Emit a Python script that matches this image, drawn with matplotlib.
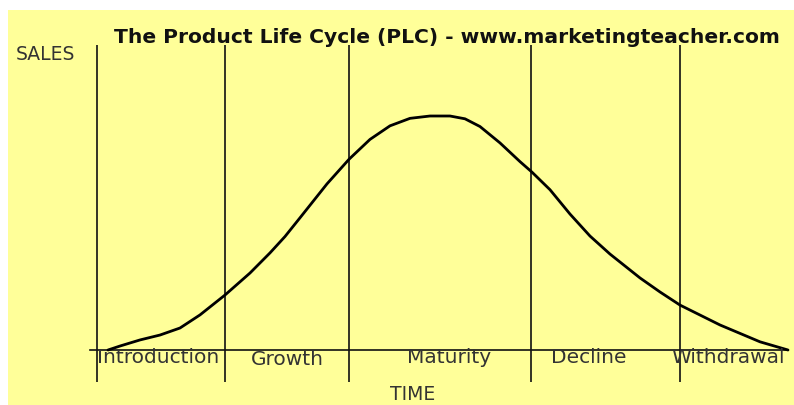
import matplotlib.pyplot as plt

# time (periods) and sales (index, peak = 100)
time = [1.1, 2.3, 4.3, 6.3, 8.3, 10.3, 12.8, 15.3, 17.3, 18.8, 20.3, 23.0,
        25.2, 27.3, 29.3, 31.3, 33.3, 35.3, 36.8, 38.3, 40.3, 42.3, 43.5,
        45.3, 47.3, 49.3, 51.3, 54.3, 56.3, 58.3, 62.3, 66.3, 69.1]
sales = [0.0, 1.7, 4.3, 6.4, 9.4, 15.0, 23.5, 32.9, 41.5, 48.5, 56.5, 71.0,
         81.5, 90.0, 95.8, 99.0, 100.0, 100.0, 98.8, 95.5, 88.5, 80.5, 76.0,
         68.5, 58.1, 48.7, 41.0, 30.8, 24.8, 19.2, 10.7, 3.5, 0.0]

stage_starts = [0.0, 12.8, 25.2, 43.4, 58.3]
stage_names = ['Introduction', 'Growth', 'Maturity', 'Decline', 'Withdrawal']
stage_label_x = [6.1, 19.0, 35.2, 49.2, 63.1]
stage_label_y = [-3.2, -4.2, -3.0, -3.0, -3.0]

bg = '#ffff99'

fig = plt.figure(figsize=(7.94, 4.05), dpi=100, facecolor='white')
ax = fig.add_axes([8 / 794, 0, 786 / 794, 395 / 405], facecolor=bg)
ax.set_xlim(-8.9, 69.7)
ax.set_ylim(-23.5, 145.3)
for s in ax.spines.values():
    s.set_visible(False)
ax.set_xticks([])
ax.set_yticks([])

# stage dividers and time axis
for x0 in stage_starts:
    ax.plot([x0, x0], [-13.7, 130.3], color='#111111', lw=1.2,
            solid_capstyle='butt')
ax.plot([-0.7, 69.1], [0, 0], color='#111111', lw=1.2)

ax.plot(time, sales, color='black', lw=2.0, solid_joinstyle='round',
        solid_capstyle='round')

for name, lx, ly in zip(stage_names, stage_label_x, stage_label_y):
    ax.text(lx, ly, name, ha='center', va='center', fontsize=14.5,
            color='#333333')

ax.text(31.6, -19.2, 'TIME', ha='center', va='center', fontsize=13.5,
        color='#333333')
ax.text(-5.2, 126.1, 'SALES', ha='center', va='center', fontsize=13.5,
        color='#333333')
ax.text(35.0, 133.5, 'The Product Life Cycle (PLC) - www.marketingteacher.com',
        ha='center', va='center', fontsize=14.6, fontweight='bold',
        color='#111111')

fig.savefig('out.png', dpi=100, facecolor='white')
